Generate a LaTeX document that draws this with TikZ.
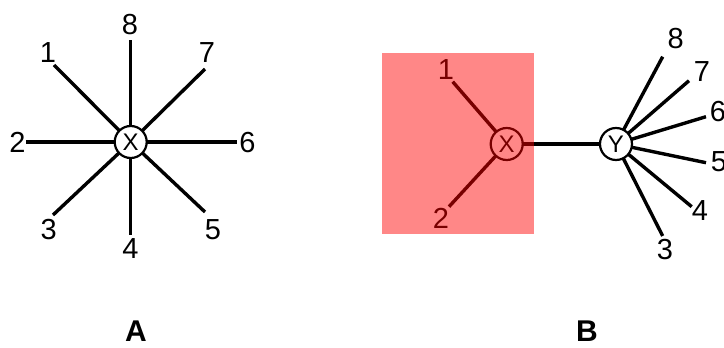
\documentclass[tikz,border=0pt]{standalone}
\usepackage{fontspec}
\setmainfont{Liberation Sans}
\usetikzlibrary{backgrounds}
\tikzstyle{spoke}=[line width=3.4pt]
\tikzstyle{vertex}=[circle, draw, line width=2.2pt, fill=white, minimum size=32pt, inner sep=0pt, font=\fontsize{24}{26}\selectfont]
\tikzstyle{lbl}=[inner sep=0pt, font=\fontsize{29}{32}\selectfont]
\tikzstyle{panel}=[inner sep=0pt, font=\fontsize{30}{32}\selectfont\bfseries]
\tikzstyle{highlight}=[fill=red, opacity=0.47]

\begin{document}
\begin{tikzpicture}[x=1pt,y=-1pt]
\useasboundingbox (0,0) rectangle (724,348);
% graph A
\node[vertex] (X) at (130.7,142) {X};
\coordinate (a1) at (54,65);
\coordinate (a2) at (26,142);
\coordinate (a3) at (53,215);
\coordinate (a4) at (130.7,235);
\coordinate (a5) at (205,212);
\coordinate (a6) at (237,142);
\coordinate (a7) at (205,69);
\coordinate (a8) at (130.7,40);
\node[lbl] (la1) at (48,53) {1};
\node[lbl] (la2) at (17.5,142) {2};
\node[lbl] (la3) at (48.8,230) {3};
\node[lbl] (la4) at (130.5,249) {4};
\node[lbl] (la5) at (213,230) {5};
\node[lbl] (la6) at (247.5,142.5) {6};
\node[lbl] (la7) at (207,53) {7};
\node[lbl] (la8) at (130,25) {8};
\begin{scope}[on background layer]
\draw[spoke](X.center)--(a1);\draw[spoke](X.center)--(a2);
\draw[spoke](X.center)--(a3);\draw[spoke](X.center)--(a4);
\draw[spoke](X.center)--(a5);\draw[spoke](X.center)--(a6);
\draw[spoke](X.center)--(a7);\draw[spoke](X.center)--(a8);
\end{scope}
\node[panel] (pA) at (136,331) {A};
% graph B
\node[vertex] (XB) at (506.7,144) {X};
\node[vertex] (YB) at (616,144) {Y};
\coordinate (b1) at (452.7,81.7);
\coordinate (b2) at (449,206.7);
\coordinate (b3) at (662.7,236);
\coordinate (b4) at (691.7,206.7);
\coordinate (b5) at (706,162.7);
\coordinate (b6) at (706,116.7);
\coordinate (b7) at (689,80.7);
\coordinate (b8) at (662.7,56.7);
\node[lbl] (lb1) at (446,69.6) {1};
\node[lbl] (lb2) at (441,218) {2};
\node[lbl] (lb3) at (665,250) {3};
\node[lbl] (lb4) at (700,211) {4};
\node[lbl] (lb5) at (719,162) {5};
\node[lbl] (lb6) at (718,112) {6};
\node[lbl] (lb7) at (702,71.5) {7};
\node[lbl] (lb8) at (675.7,38.5) {8};
\begin{scope}[on background layer]
\draw[spoke](XB.center)--(b1);\draw[spoke](XB.center)--(b2);
\draw[spoke](XB.center)--(YB.center);
\draw[spoke](YB.center)--(b3);\draw[spoke](YB.center)--(b4);
\draw[spoke](YB.center)--(b5);\draw[spoke](YB.center)--(b6);
\draw[spoke](YB.center)--(b7);\draw[spoke](YB.center)--(b8);
\end{scope}
\fill[highlight] (382,53) rectangle (534,234);
\node[panel] (pB) at (587,331) {B};
\end{tikzpicture}
\end{document}
